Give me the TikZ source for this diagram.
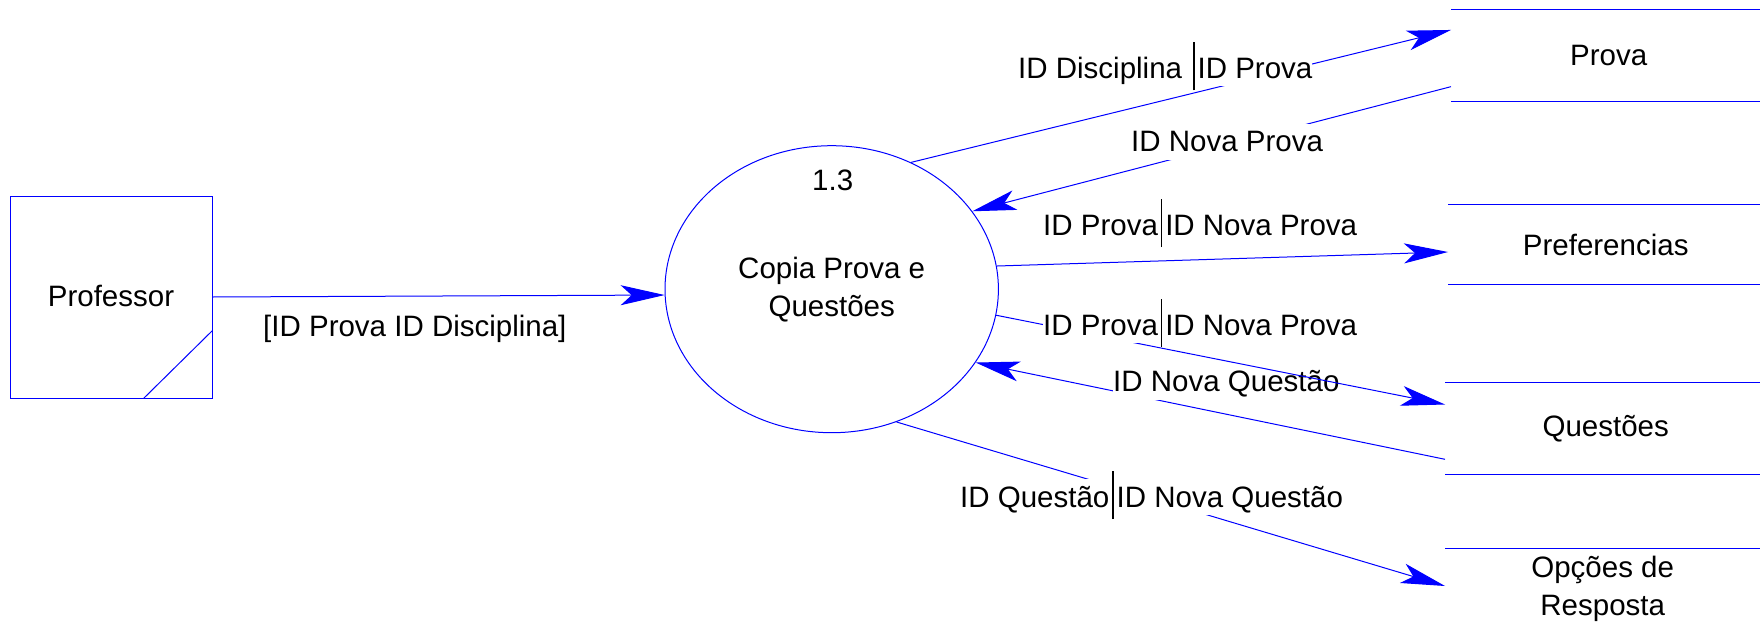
\documentclass[tikz,border=0pt]{standalone}
\usepackage{fontspec}
\setmainfont{Liberation Sans}
\usetikzlibrary{arrows.meta,shapes.geometric}
\newcommand\idbar{\hspace{3pt}\smash{\rule[-12pt]{1.3pt}{48pt}}\hspace{3pt}}
\begin{document}
\begin{tikzpicture}[x=1pt,y=-1pt,
  font=\fontsize{29.5}{38}\selectfont,
  flow/.style={draw=blue, line width=1pt, -{Stealth[length=44pt,width=20pt,inset=11pt]}},
  bline/.style={draw=blue, line width=1pt},
  lbl/.style={fill=white, inner xsep=0pt, inner ysep=7pt, text height=21pt, text depth=1pt, anchor=base west},
  store/.style={inner sep=0pt, minimum height=#1, anchor=west, align=center},
  txt/.style={inner sep=0pt, anchor=base}
]
\useasboundingbox (0,0) rectangle (1760,626);

% external entity
\node[draw=blue, line width=1pt, minimum width=202pt, minimum height=202pt, inner sep=0pt] (prof) at (111,297) {\raisebox{3pt}{Professor}\hspace{6pt}};
\draw[bline] ([xshift=-69pt]prof.south east) -- ([yshift=68pt]prof.south east);

% process
\node[ellipse, draw=blue, line width=1pt, minimum width=333.4pt, minimum height=287pt, inner sep=0pt, align=center] (proc) at (831.7,289.2) {Copia Prova e\\Questões};
\node[txt] (num) at (832.7,190) {1.3};

% data stores
\node[store=91.7pt, minimum width=309pt] (prova) at (1451,55.15) {\hspace{6pt}Prova};
\node[store=80pt, minimum width=312pt] (pref) at (1448,244.7) {\hspace{3pt}Preferencias};
\node[store=92pt, minimum width=315pt] (ques) at (1445,428.3) {\hspace{6pt}\raisebox{-2pt}{Questões}};
\node[store=80.6pt, minimum width=315pt] (opc) at (1445,589) {Opções de\\Resposta};
\draw[bline] (prova.north west) -- (prova.north east) (prova.south west) -- (prova.south east);
\draw[bline] (pref.north west) -- (pref.north east) (pref.south west) -- (pref.south east);
\draw[bline] (ques.north west) -- (ques.north east) (ques.south west) -- (ques.south east);
\draw[bline] (opc.north west) -- (opc.north east);

% flows
\draw[flow] (prof.east) -- (proc.182.6);
\node[lbl] (l1) at (263,336.5) {[ID Prova ID Disciplina]};

\draw[flow] (proc.58.8) -- ([yshift=25.2pt]prova.west);
\node[lbl] (l2) at (1018,78.3) {ID Disciplina \idbar ID Prova};

\draw[flow] ([yshift=-31.5pt]prova.west) -- (proc.29.3);
\node[lbl] (l3) at (1131,151.7) {ID Nova Prova};

\draw[flow] (proc.8.9) -- ([yshift=-7.3pt]pref.west);
\node[lbl] (l4) at (1043,235) {ID Prova\idbar ID Nova Prova};

\draw[flow] ([yshift=-31pt]ques.west) -- (proc.-27.6);
\node[lbl] (l6) at (1113,391.7) {ID Nova Questão};

\draw[flow] (proc.-9.2) -- ([yshift=23.8pt]ques.west);
\node[lbl] (l5) at (1043,335) {ID Prova\idbar ID Nova Prova};

\draw[flow] (proc.-64.4) -- ([yshift=3pt]opc.west);
\node[lbl] (l7) at (960,507) {ID Questão\idbar ID Nova Questão};
\end{tikzpicture}
\end{document}
